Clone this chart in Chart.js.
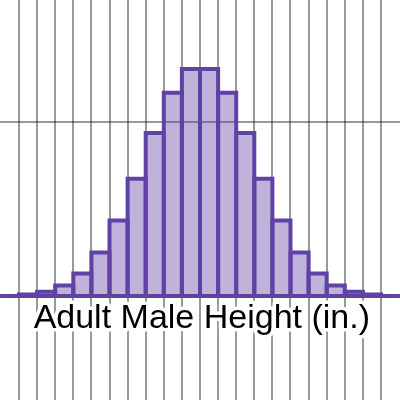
<!DOCTYPE html>
<html>
<head>
<meta charset="utf-8">
<script src="https://cdn.jsdelivr.net/npm/chart.js@4.4.1/dist/chart.umd.min.js"></script>
<style>
html,body{margin:0;padding:0;background:#fff;}
#wrap{width:400px;height:400px;position:relative;}
</style>
</head>
<body>
<div id="wrap"><canvas id="c"></canvas></div>
<script>
// Bin lower edges (inches), 1-inch bins
const binEdges = [58,59,60,61,62,63,64,65,66,67,68,69,70,71,72,73,74,75,76,77,78,79,80,81];
// Relative frequency
const binValues = [0,0,0.0009,0.0025,0.0060,0.0130,0.0250,0.0434,0.0675,0.0938,0.1169,0.1306,
                   0.1306,0.1169,0.0938,0.0675,0.0434,0.0250,0.0130,0.0060,0.0025,0.0009,0,0];
// Vertical grid lines (x values) and horizontal grid line (y values)
const xGridValues = [60,61,62,63,64,65,66,67,68,69,70,71,72,73,74,75,76,77,78,79,80];
const yGridValues = [0.1];
const labelText = "Adult Male Height (in.)";
const labelX = 70.1;

const PURPLE = '#6042a6';
const FILL = 'rgba(96,66,166,0.4)';
const GRID = 'rgba(0,0,0,0.4)';

const barData = binEdges.map((e, i) => ({x: e + 0.5, y: binValues[i]}));

const outlinePlugin = {
  id: 'outline',
  afterDatasetsDraw(chart) {
    const ctx = chart.ctx;
    const meta = chart.getDatasetMeta(0);
    ctx.save();
    ctx.strokeStyle = PURPLE;
    ctx.lineWidth = 4;
    ctx.lineJoin = 'miter';
    meta.data.forEach(bar => {
      const p = bar.getProps(['x','y','base','width'], true);
      ctx.beginPath();
      ctx.rect(p.x - p.width / 2, p.y, p.width, p.base - p.y);
      ctx.stroke();
    });
    ctx.restore();
  }
};

const labelPlugin = {
  id: 'label',
  afterDraw(chart) {
    const ctx = chart.ctx;
    const xs = chart.scales.x, ys = chart.scales.y;
    const px = xs.getPixelForValue(labelX);
    const py = ys.getPixelForValue(0) + 32;
    ctx.save();
    ctx.font = '34px "Liberation Sans", Arial, sans-serif';
    ctx.textAlign = 'center';
    ctx.textBaseline = 'alphabetic';
    ctx.lineJoin = 'round';
    ctx.lineWidth = 7;
    ctx.strokeStyle = '#ffffff';
    ctx.strokeText(labelText, px, py);
    ctx.fillStyle = '#000000';
    ctx.fillText(labelText, px, py);
    ctx.restore();
  }
};

new Chart(document.getElementById('c'), {
  type: 'bar',
  data: {
    datasets: [{
      data: barData,
      backgroundColor: FILL,
      borderWidth: 0,
      barPercentage: 1,
      categoryPercentage: 1
    }]
  },
  options: {
    responsive: true,
    maintainAspectRatio: false,
    animation: false,
    events: [],
    layout: {padding: 0},
    plugins: {legend: {display: false}, tooltip: {enabled: false}, title: {display: false}},
    scales: {
      x: {
        type: 'linear',
        min: 58.95,
        max: 81.05,
        offset: false,
        afterBuildTicks: s => { s.ticks = xGridValues.map(v => ({value: v})); },
        ticks: {display: false},
        border: {display: false},
        grid: {offset: false, drawTicks: false, color: GRID, lineWidth: 2}
      },
      y: {
        type: 'linear',
        min: -0.0598,
        max: 0.1703,
        afterBuildTicks: s => { s.ticks = yGridValues.map(v => ({value: v})); },
        ticks: {display: false},
        border: {display: false},
        grid: {drawTicks: false, color: GRID, lineWidth: 2}
      }
    }
  },
  plugins: [outlinePlugin, labelPlugin]
});
</script>
</body>
</html>
